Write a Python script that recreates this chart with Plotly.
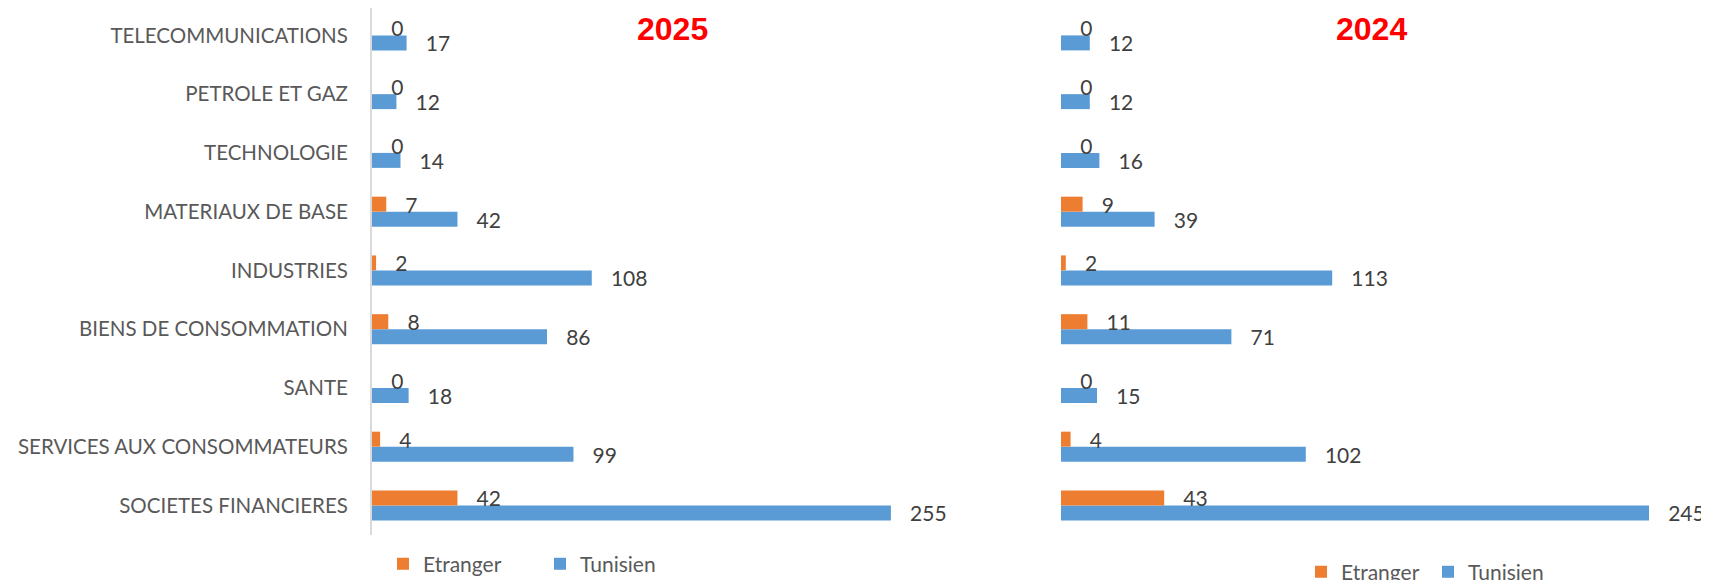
import plotly.graph_objects as go

categories = ["SOCIETES FINANCIERES", "SERVICES AUX CONSOMMATEURS", "SANTE",
              "BIENS DE CONSOMMATION", "INDUSTRIES", "MATERIAUX DE BASE",
              "TECHNOLOGIE", "PETROLE ET GAZ", "TELECOMMUNICATIONS"]
tunisien_2025 = [255, 99, 18, 86, 108, 42, 14, 12, 17]
etranger_2025 = [42, 4, 0, 8, 2, 7, 0, 0, 0]
tunisien_2024 = [245, 102, 15, 71, 113, 39, 16, 12, 12]
etranger_2024 = [43, 4, 0, 11, 2, 9, 0, 0, 0]
series_names = ["Etranger", "Tunisien"]
titles = ["2025", "2024"]

ORANGE = "#ED7D31"
BLUE = "#5B9BD5"
FONT = "Lato"
OFF = 8                      # page body margin in the browser
W, H = 1709 - OFF, 580 - OFF
idx = list(range(len(categories)))

fig = go.Figure()

def add_bars(tun, etr, xa, ya, leg):
    for name, vals, col, rank in [(series_names[1], tun, BLUE, 2), (series_names[0], etr, ORANGE, 1)]:
        fig.add_trace(go.Bar(
            y=idx, x=vals, orientation="h", name=name, marker=dict(color=col, line=dict(width=0)),
            xaxis=xa, yaxis=ya, legend=leg, legendrank=rank,
            text=vals, texttemplate="\u00a0\u00a0\u00a0%{x}", textposition="outside",
            constraintext="none", cliponaxis=False,
            textfont=dict(family=FONT, size=21, color="#404040"),
            hoverinfo="skip",
        ))

add_bars(tunisien_2025, etranger_2025, "x", "y", "legend")
add_bars(tunisien_2024, etranger_2024, "x2", "y2", "legend2")

top, bottom = 0, 45
ph = H - top - bottom          # 527 px
pitch = 58.75
top_center = 35.4 - OFF        # pixel of top category centre in figure coords
n = len(categories)
y_hi = (n - 1) + top_center / pitch
y_lo = y_hi - ph / pitch

left0, left1 = 372 - OFF, 974 - OFF
right0, right1 = 1061 - OFF, W
lscale, rscale = 2.035, 2.4

def py(pix_full):
    pix = pix_full - OFF
    return (H - bottom - pix) / ph

fig.update_layout(
    width=W, height=H,
    margin=dict(l=0, r=0, t=top, b=bottom, autoexpand=False),
    paper_bgcolor="white", plot_bgcolor="white",
    barmode="group", bargap=0.49, bargroupgap=0,
    showlegend=True,
    xaxis=dict(domain=[left0 / W, left1 / W], range=[0, (left1 - left0) / lscale], visible=False),
    xaxis2=dict(domain=[right0 / W, 1.0], range=[0, (right1 - right0) / rscale], visible=False),
    yaxis=dict(anchor="x", range=[y_lo, y_hi], tickvals=idx, ticktext=categories,
               showline=True, linecolor="#D9D9D9", linewidth=2, showgrid=False, zeroline=False,
               ticks="", ticklabelstandoff=18, automargin=False,
               tickfont=dict(family=FONT, size=20.5, color="#595959")),
    yaxis2=dict(anchor="x2", range=[y_lo, y_hi], tickvals=idx, automargin=False,
                showticklabels=False, showline=False, showgrid=False, zeroline=False),
    legend=dict(orientation="h", x=375 / W, xanchor="left", y=py(564), yanchor="middle",
                font=dict(family=FONT, size=21, color="#595959"), entrywidth=112,
                bgcolor="rgba(0,0,0,0)"),
    legend2=dict(orientation="h", x=1293 / W, xanchor="left", y=py(572), yanchor="middle",
                 font=dict(family=FONT, size=21, color="#595959"), entrywidth=82,
                 bgcolor="rgba(0,0,0,0)"),
    annotations=[
        dict(text=titles[0], x=(672 - OFF) / W, y=py(29.5), xref="paper", yref="paper", showarrow=False,
             xanchor="center", yanchor="middle",
             font=dict(family="Liberation Sans", size=32, color="#FF0000", weight="bold")),
        dict(text=titles[1], x=(1371 - OFF) / W, y=py(29.5), xref="paper", yref="paper", showarrow=False,
             xanchor="center", yanchor="middle",
             font=dict(family="Liberation Sans", size=32, color="#FF0000", weight="bold")),
    ],
)

fig.write_html("out.html")
